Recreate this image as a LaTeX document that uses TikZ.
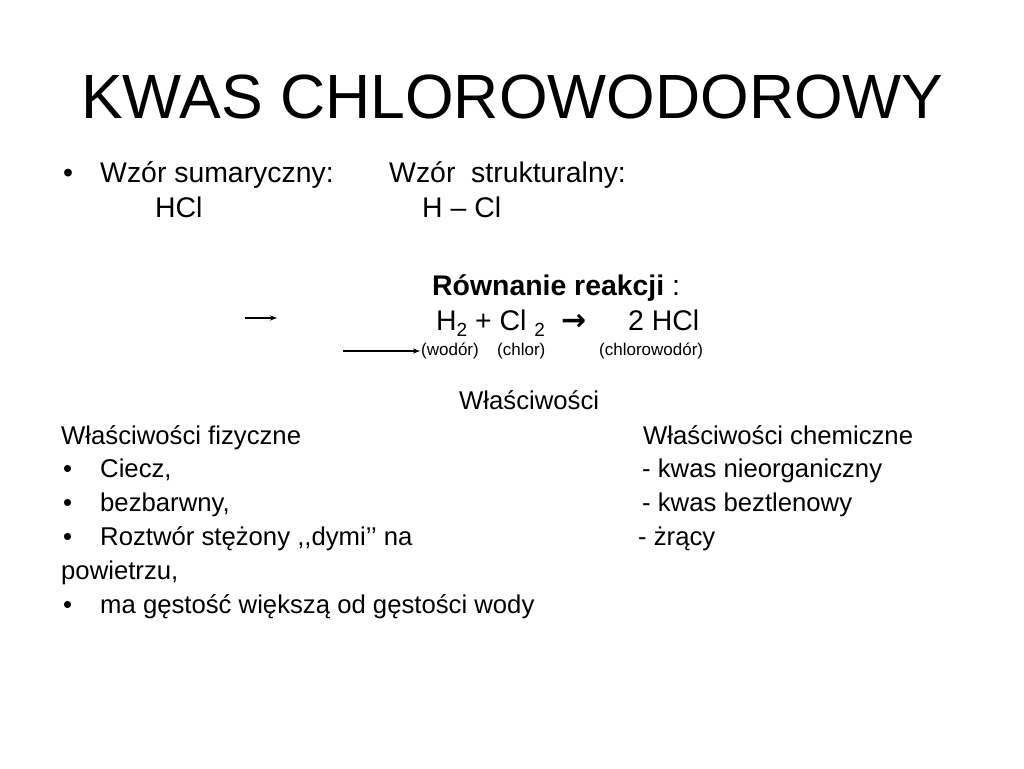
\documentclass[tikz,border=0pt]{standalone}
\usepackage{fontspec}
\setmainfont{Liberation Sans}
\newfontfamily\arrowfont{DejaVu Sans}
\usetikzlibrary{arrows.meta}
\newcommand{\bodysize}{\fontsize{28.4}{34}\selectfont}
\newcommand{\propsize}{\fontsize{25.7}{31}\selectfont}
\newcommand{\smallsize}{\fontsize{17}{20}\selectfont}
\newcommand{\lowsub}[1]{\raisebox{-6pt}{\fontsize{19}{19}\selectfont #1}}
\tikzset{
  txt/.style={anchor=base west, inner sep=0pt, font=\bodysize},
  prop/.style={anchor=base west, inner sep=0pt, font=\propsize},
  ttl/.style={anchor=base west, inner sep=0pt, font=\fontsize{62.5}{70}\selectfont},
  lbl/.style={anchor=base west, inner sep=0pt, font=\smallsize},
  arr/.style={-{Stealth[length=7pt,width=5pt]}, line width=1.1pt}
}
\begin{document}
\begin{tikzpicture}[x=1pt,y=-1pt]
\fill[white] (0,0) rectangle (1024,768);
\useasboundingbox (0,0) rectangle (1024,768);
% title
\node[ttl] (title) at (81,118) {KWAS CHLOROWODOROWY};
% formulas
\node[txt] (b1) at (63,182) {•};
\node[txt] (ws) at (100,182) {Wzór sumaryczny:};
\node[txt] (wst) at (389,182) {Wzór\ \ strukturalny:};
\node[txt] (hcl) at (155,217) {HCl};
\node[txt] (hcls) at (422,217) {H – Cl};
% reaction
\node[txt] (rr) at (432,295) {\textbf{Równanie reakcji} :};
\node[txt] (eq1) at (436,330) {H\lowsub{2} + Cl \lowsub{2}};
\node[txt] (eqa) at (561,330) {\arrowfont\bfseries\fontsize{30}{34}\selectfont →};
\node[txt] (eq2) at (628,330) {2 HCl};
\node[lbl] (l1) at (421,355) {(wodór)};
\node[lbl] (l2) at (497,355) {(chlor)};
\node[lbl] (l3) at (599,355) {(chlorowodór)};
\coordinate (a1s) at (245,318);
\coordinate (a1e) at (277,318);
\coordinate (a2s) at (343,351);
\draw[arr] (a1s) -- (a1e);
\draw[arr] (a2s) -- ([xshift=-1pt]l1.west |- a2s);
% properties
\node[prop] (wl) at (459,409) {Właściwości};
\node[prop] (wf) at (61,444) {Właściwości fizyczne};
\node[prop] (wc) at (643,444) {Właściwości chemiczne};
\node[prop] (b2) at (63,477) {•};
\node[prop] (f1) at (100,477) {Ciecz,};
\node[prop] (c1) at (642,477) {- kwas nieorganiczny};
\node[prop] (b3) at (63,511) {•};
\node[prop] (f2) at (100,511) {bezbarwny,};
\node[prop] (c2) at (642,511) {- kwas beztlenowy};
\node[prop] (b4) at (63,545) {•};
\node[prop] (f3) at (100,545) {Roztwór stężony {,}{,}dymi’’ na};
\node[prop] (c3) at (638,545) {- żrący};
\node[prop] (f4) at (61,579) {powietrzu,};
\node[prop] (b5) at (63,613) {•};
\node[prop] (f5) at (100,613) {ma gęstość większą od gęstości wody};
\end{tikzpicture}
\end{document}
